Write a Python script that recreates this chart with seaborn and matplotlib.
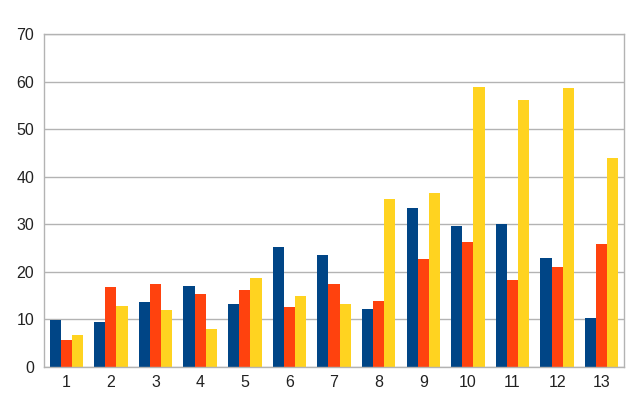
import numpy as np
import pandas as pd
import matplotlib
matplotlib.use("Agg")
import matplotlib.pyplot as plt
import seaborn as sns

# --- values ---
groups = [str(i) for i in range(1, 14)]
series_a = [9.8, 9.5, 13.6, 17.1, 13.2, 25.2, 23.6, 12.2, 33.5, 29.7, 30.0, 23.0, 10.4]
series_b = [5.6, 16.8, 17.5, 15.4, 16.3, 12.6, 17.4, 13.8, 22.7, 26.2, 18.4, 21.0, 25.9]
series_c = [6.8, 12.9, 11.9, 8.1, 18.7, 14.9, 13.2, 35.3, 36.6, 58.8, 56.1, 58.7, 44.0]
series_names = ["A", "B", "C"]
colors = ["#004586", "#ff420e", "#ffd320"]

df = pd.DataFrame({
    "group": groups * 3,
    "value": series_a + series_b + series_c,
    "series": np.repeat(series_names, len(groups)),
})

sns.set_style("white")
plt.rcParams["font.family"] = ["Liberation Sans", "DejaVu Sans"]

fig = plt.figure(figsize=(6.41, 4.11), dpi=100)
ax = fig.add_axes([0.0686, 0.107, 0.905, 0.81])

sns.barplot(data=df, x="group", y="value", hue="series", palette=colors,
            width=0.75, saturation=1, linewidth=0, legend=False, ax=ax)

ax.set_ylim(0, 70)
ax.set_xlim(-0.5, len(groups) - 0.5)
ax.set_yticks(range(0, 71, 10))
ax.yaxis.grid(True, color="#b3b3b3", linewidth=1)
ax.set_axisbelow(True)
ax.set_xlabel("")
ax.set_ylabel("")

for s in ax.spines.values():
    s.set_color("#b3b3b3")
    s.set_linewidth(1)

ax.tick_params(axis="x", which="major", length=0, labelsize=11.5, pad=6, colors="#222222")
ax.set_xticks(np.arange(-0.5, len(groups)), minor=True)
ax.tick_params(axis="x", which="minor", length=5, color="#b3b3b3", width=1)
ax.tick_params(axis="y", length=5, labelsize=11.5, pad=2, colors="#222222")
ax.tick_params(axis="y", color="#b3b3b3")

fig.savefig("out.png", dpi=100)
